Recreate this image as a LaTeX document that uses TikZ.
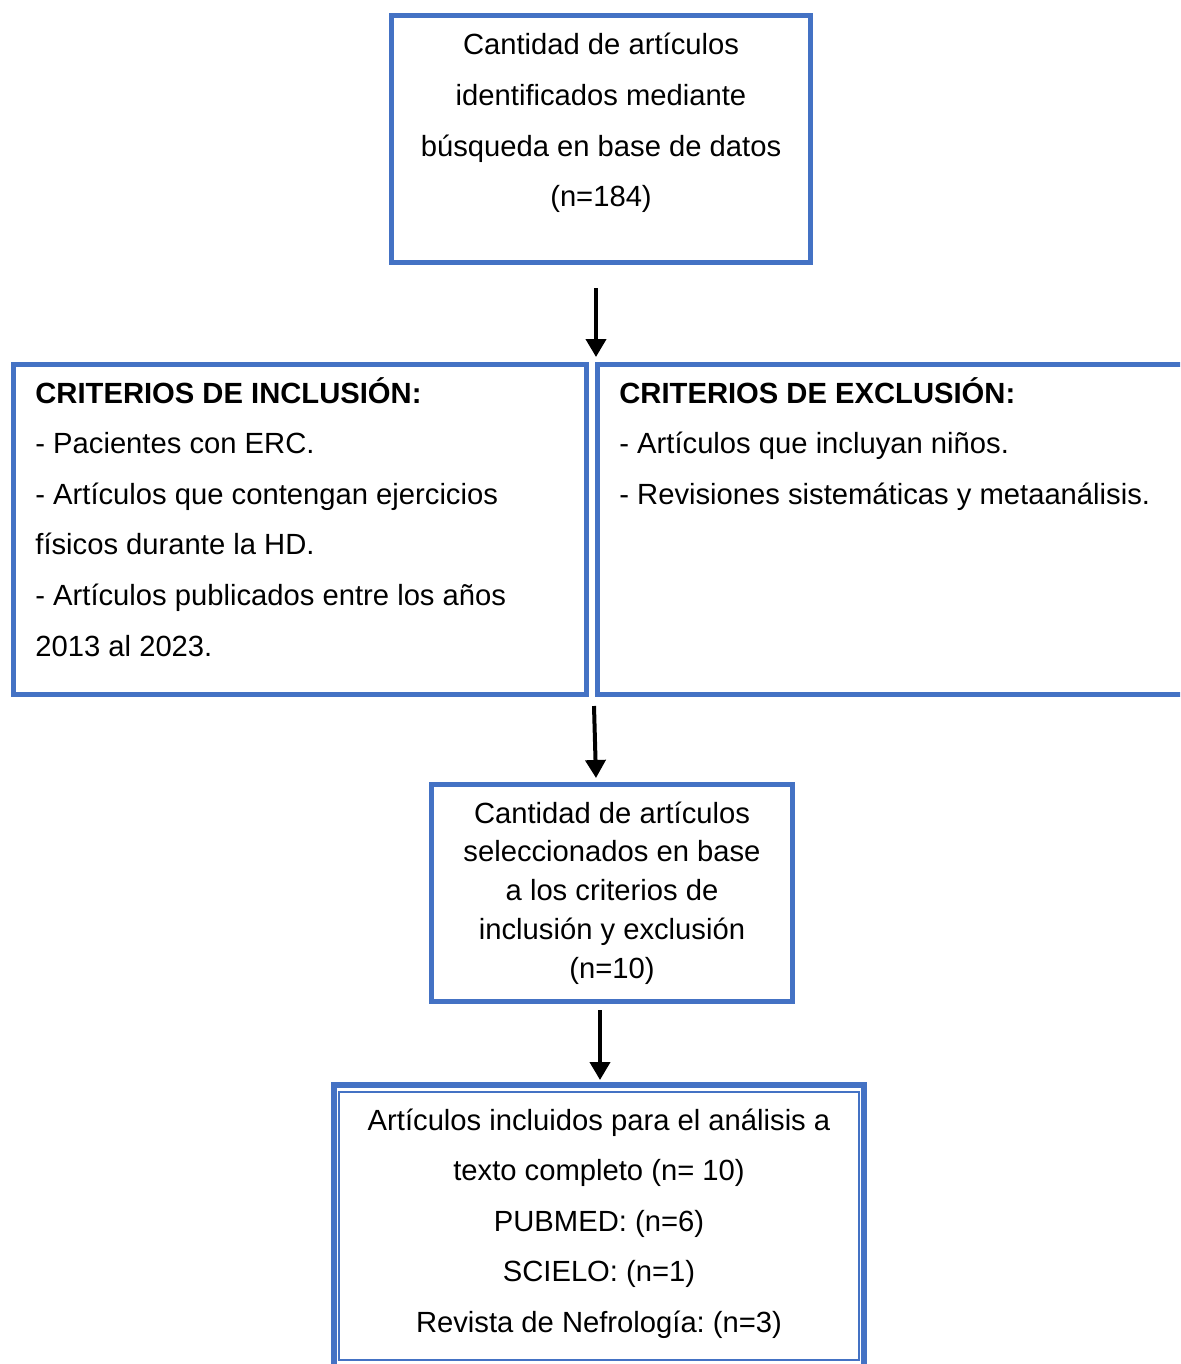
\documentclass[tikz,border=0pt]{standalone}
\usepackage{fontspec}
\setmainfont{Liberation Sans}
\usetikzlibrary{fit,calc,arrows.meta}
\definecolor{bblue}{HTML}{4472C4}
\frenchspacing
\begin{document}
\begin{tikzpicture}[x=0.5pt,y=-0.5pt,
  box/.style={draw=bblue,line width=2.7pt,inner sep=0pt,outer sep=0pt,rectangle},
  thinbox/.style={draw=bblue,line width=1pt,inner sep=0pt,outer sep=0pt,rectangle},
  txt/.style={inner sep=0pt,font=\fontsize{14.6}{25.3}\selectfont},
  txtb/.style={inner sep=0pt,font=\fontsize{14.6}{19.4}\selectfont},
  arr/.style={line width=2pt,-{Triangle[width=10pt,length=9pt]}}]
\useasboundingbox (0,0) rectangle (1180,1364);
\clip (0,0) rectangle (1180,1364);
\fill[white] (0,0) rectangle (1180,1364);

% boxes
\node[box,fit={(391.5,15.5) (810.5,262.5)}] (b1) {};
\node[box,fit={(13.5,364.5) (586.5,694.5)}] (incl) {};
\node[box,fit={(597.5,364.5) (1200,694.5)}] (excl) {};
\node[box,fit={(431.5,784.5) (792.5,1001.5)}] (b3) {};
\node[box,line width=3pt,fit={(334,1085) (864,1400)}] (b4) {};
\node[thinbox,fit={(339,1092) (859,1360)}] (b4in) {};

% texts (anchor = baseline of last line)
\node[txt,align=center,anchor=base] (t1) at (601,206.8)
  {Cantidad de artículos\\identificados mediante\\búsqueda en base de datos\\(n=184)};
\node[txt,align=left,anchor=base west] (tincl) at (35,656)
  {\textbf{CRITERIOS DE INCLUSIÓN:}\\- Pacientes con ERC.\\- Artículos que contengan ejercicios\\físicos durante la HD.\\- Artículos publicados entre los años\\2013 al 2023.};
\node[txt,align=left,anchor=base west] (texcl) at (619,504.2)
  {\textbf{CRITERIOS DE EXCLUSIÓN:}\\- Artículos que incluyan niños.\\- Revisiones sistemáticas y metaanálisis.};
\node[txtb,align=center,anchor=base] (t3) at (612,978.2)
  {Cantidad de artículos\\seleccionados en base\\a los criterios de\\inclusión y exclusión\\(n=10)};
\node[txt,align=center,anchor=base] (t4) at (599,1332.4)
  {Artículos incluidos para el análisis a\\texto completo (n= 10)\\PUBMED: (n=6)\\SCIELO: (n=1)\\Revista de Nefrología: (n=3)};

% arrows
\draw[arr] ($(b1.south)+(-5,25.5)$) -- ($(incl.north east)+(9.5,-7.5)$);
\draw[arr] ($(incl.south east)+(7.5,11.5)$) -- ($(b3.north)+(-16,-6.5)$);
\draw[arr] ($(b3.south)+(-12,8.5)$) -- ($(b4.north)+(1,-5)$);
\end{tikzpicture}
\end{document}
